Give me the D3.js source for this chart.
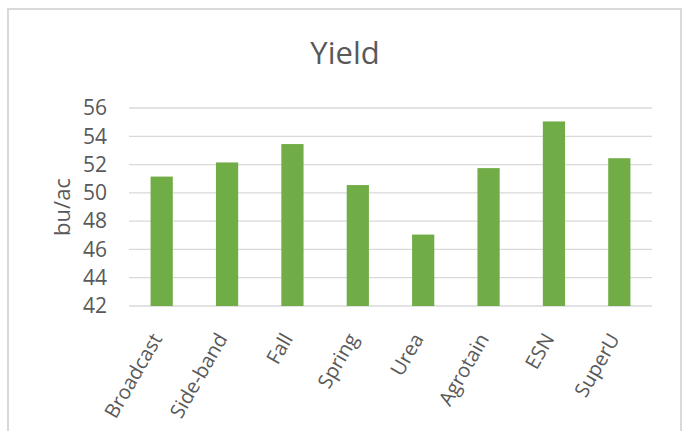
<!DOCTYPE html>
<html>
<head>
<meta charset="utf-8">
<script src="https://cdn.jsdelivr.net/npm/d3@7"></script>
<style>
  html, body { margin: 0; padding: 0; background: #fff; }
  svg { display: block; }
  text { font-family: "Open Sans", sans-serif; fill: #595959; }
</style>
</head>
<body>
<script>
const categories = ["Broadcast", "Side-band", "Fall", "Spring", "Urea", "Agrotain", "ESN", "SuperU"];
const yieldValues = [51.15, 52.15, 53.45, 50.55, 47.05, 51.75, 55.05, 52.45];
const yTicks = [42, 44, 46, 48, 50, 52, 54, 56];
const chartTitle = "Yield";
const yAxisTitle = "bu/ac";

const W = 688, H = 431;
const plot = { left: 129, right: 652, top: 108, bottom: 306 };

const svg = d3.select("body").append("svg").attr("width", W).attr("height", H);

// chart border
svg.append("rect")
  .attr("x", 8).attr("y", 9)
  .attr("width", 673).attr("height", 440)
  .attr("fill", "#fff")
  .attr("stroke", "#d9d9d9")
  .attr("stroke-width", 2);

const x = d3.scaleBand()
  .domain(categories)
  .range([plot.left, plot.right])
  .paddingInner(0.66)
  .paddingOuter(0.33);

const y = d3.scaleLinear()
  .domain([42, 56])
  .range([plot.bottom, plot.top]);

// gridlines
svg.append("g")
  .selectAll("line")
  .data(yTicks)
  .join("line")
  .attr("x1", plot.left).attr("x2", plot.right)
  .attr("y1", d => y(d)).attr("y2", d => y(d))
  .attr("stroke", "#d9d9d9")
  .attr("stroke-width", 1.3);

// y axis labels
const yAxis = d3.axisLeft(y).tickValues(yTicks).tickSize(0).tickPadding(0);
const gy = svg.append("g")
  .attr("transform", `translate(${plot.left - 22},0)`)
  .call(yAxis);
gy.select(".domain").remove();
gy.selectAll("text")
  .attr("font-size", 21)
  .attr("font-family", "'Open Sans', sans-serif")
  .attr("fill", "#595959");

// bars
svg.append("g")
  .selectAll("rect")
  .data(categories.map((c, i) => ({ c, v: yieldValues[i] })))
  .join("rect")
  .attr("x", d => x(d.c))
  .attr("width", x.bandwidth())
  .attr("y", d => y(d.v))
  .attr("height", d => y(42) - y(d.v))
  .attr("fill", "#70ad47");

// x axis labels
const xAxis = d3.axisBottom(x).tickSize(0).tickPadding(0);
const gx = svg.append("g")
  .attr("transform", `translate(0,${plot.bottom})`)
  .call(xAxis);
gx.select(".domain").remove();
gx.selectAll("text")
  .attr("font-size", 20)
  .attr("font-family", "'Open Sans', sans-serif")
  .attr("fill", "#595959")
  .attr("text-anchor", "end")
  .attr("dy", "0.35em")
  .attr("transform", "translate(-5,29) rotate(-60)");

// title
svg.append("text")
  .attr("x", 345).attr("y", 64)
  .attr("text-anchor", "middle")
  .attr("font-size", 31)
  .text(chartTitle);

// y axis title
svg.append("text")
  .attr("transform", "translate(70,207) rotate(-90)")
  .attr("text-anchor", "middle")
  .attr("font-size", 22)
  .text(yAxisTitle);
</script>
</body>
</html>
